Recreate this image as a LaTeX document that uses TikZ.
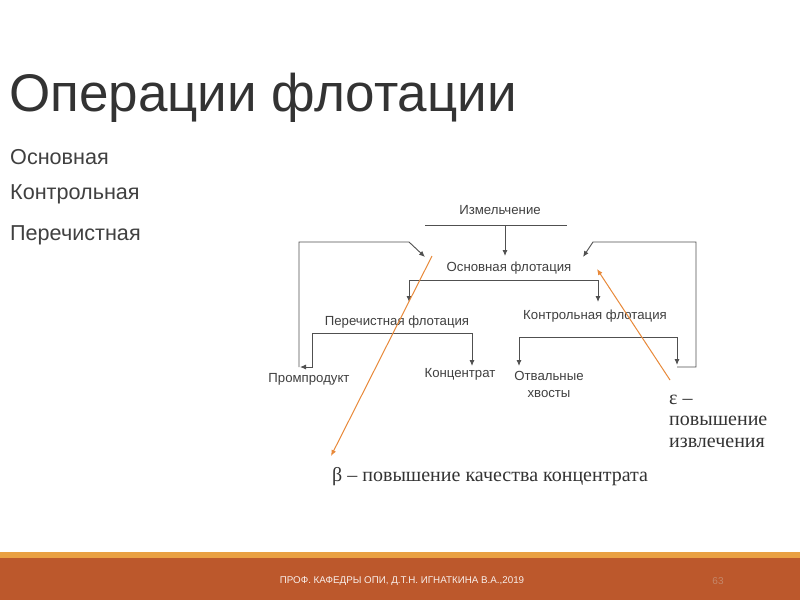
\documentclass[tikz,border=0pt]{standalone}
\usepackage{fontspec}
\setmainfont{Liberation Sans}
\newfontfamily\serifru{Liberation Serif}
\usetikzlibrary{arrows.meta}
\definecolor{txt}{HTML}{333333}
\definecolor{dtxt}{HTML}{404040}
\definecolor{ln}{HTML}{505050}
\definecolor{org}{HTML}{E8893A}
\definecolor{band}{HTML}{BC582C}
\definecolor{bandline}{HTML}{E9A042}
\definecolor{pgc}{HTML}{C5876A}
\tikzset{
  lbl/.style={text=dtxt, font=\fontsize{13.2}{15}\selectfont, inner sep=0pt},
  conn/.style={draw=ln, line width=0.9pt},
  arr/.style={conn, -{Latex[length=6pt,width=5pt]}},
  oarr/.style={draw=org, line width=1pt, -{Latex[length=6pt,width=5pt]}},
  listtxt/.style={anchor=base west, text=dtxt, inner sep=0pt, font=\fontsize{21.6}{24}\selectfont},
}
\begin{document}
\begin{tikzpicture}[x=1pt,y=-1pt]
\useasboundingbox (0,0) rectangle (800,600);
\fill[white] (0,0) rectangle (800,600);
% footer band
\fill[bandline] (0,552) rectangle (800,558);
\fill[band] (0,558) rectangle (800,600);
\node[anchor=center, text=white!90!band, font=\fontsize{9.8}{11}\selectfont] (foot) at (402,581) {ПРОФ. КАФЕДРЫ ОПИ, Д.Т.Н. ИГНАТКИНА В.А.,2019};
\node[anchor=center, text=pgc, font=\fontsize{10}{11}\selectfont] (pg) at (718,581) {63};
% title and list
\node[anchor=base west, text=txt, inner sep=0pt, font=\fontsize{53}{60}\selectfont] (title) at (9,111) {Операции флотации};
\node[listtxt] (l1) at (10,164) {Основная};
\node[listtxt] (l2) at (10,199) {Контрольная};
\node[listtxt] (l3) at (10,240) {Перечистная};
% diagram nodes
\node[lbl] (izm) at (500,210) {Измельчение};
\node[lbl] (osn) at (509,268) {Основная флотация};
\node[lbl] (per) at (397,322) {Перечистная флотация};
\node[lbl] (kon) at (595,316) {Контрольная флотация};
\node[lbl] (prom) at (309,379) {Промпродукт};
\node[lbl] (konc) at (460,374) {Концентрат};
\node[lbl, align=center] (otv) at (549,384) {Отвальные\\[2pt]хвосты};
% coordinates
\coordinate (izmL) at (425,225);
\coordinate (izmR) at (567,225);
\coordinate (izmM) at (505,225);
\coordinate (osnIn) at (505,256);
\coordinate (osnL) at (409,280);
\coordinate (osnR) at (598,280);
\coordinate (perIn) at (409,302);
\coordinate (konIn) at (598,302);
\coordinate (perL) at (312,333);
\coordinate (perR) at (472,333);
\coordinate (promIn) at (300,367);
\coordinate (koncIn) at (472,366);
\coordinate (konL) at (519,337);
\coordinate (konR) at (677,337);
\coordinate (otvIn) at (519,366);
\coordinate (retIn) at (677,365);
\coordinate (fbL1) at (299,367);
\coordinate (fbL2) at (299,242);
\coordinate (fbL3) at (409,242);
\coordinate (fbLin) at (425,257);
\coordinate (fbR0) at (677,367);
\coordinate (fbR1) at (696,367);
\coordinate (fbR2) at (696,242);
\coordinate (fbR3) at (593,242);
\coordinate (fbRin) at (583,257);
% connectors
\draw[conn] (izmL) -- (izmR);
\draw[arr] (izmM) -- (osnIn);
\draw[arr] (osnR) -- (osnL) -- (perIn);
\draw[arr] (osnL) -- (osnR) -- (konIn);
\draw[arr] (perR) -- (perL) |- (promIn);
\draw[arr] (perL) -- (perR) -- (koncIn);
\draw[arr] (konR) -- (konL) -- (otvIn);
\draw[arr] (konL) -- (konR) -- (retIn);
\draw[arr] (fbL1) -- (fbL2) -- (fbL3) -- (fbLin);
\draw[arr] (fbR0) -- (fbR1) -- (fbR2) -- (fbR3) -- (fbRin);
% orange annotations
\coordinate (bTop) at (432,256);
\coordinate (bTip) at (331,456);
\coordinate (eBot) at (670,380);
\coordinate (eTip) at (597,269);
\draw[oarr] (bTop) -- (bTip);
\draw[oarr] (eBot) -- (eTip);
\node[anchor=base west, text=txt, inner sep=0pt, align=left, font=\serifru\fontsize{20}{21.5}\selectfont] (eps) at (669,447) {ε –\\повышение\\извлечения};
\node[anchor=base west, text=txt, inner sep=0pt, font=\serifru\fontsize{20}{21.5}\selectfont] (beta) at (332,481) {β – повышение качества концентрата};
\end{tikzpicture}
\end{document}
